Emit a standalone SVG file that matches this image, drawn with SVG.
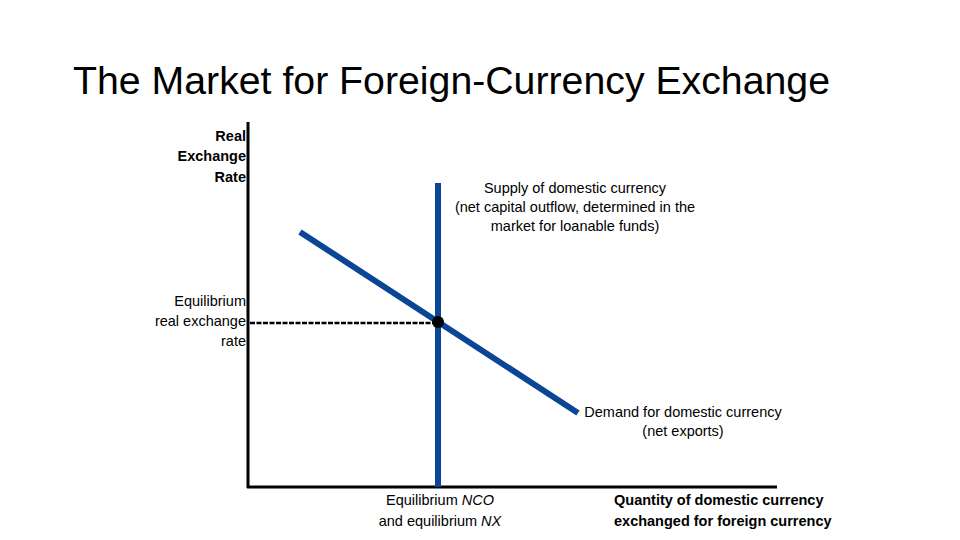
<svg xmlns="http://www.w3.org/2000/svg" width="960" height="540" viewBox="0 0 960 540">
<style>
text{font-family:"Liberation Sans",Arial,sans-serif;fill:#000}
.t{font-size:38px}
.s{font-size:14.5px}
.b{font-weight:bold}
.curve{stroke:#0b4596;stroke-width:6;fill:none}
.axis{stroke:#000;stroke-width:3;fill:none}
</style>
<rect width="960" height="540" fill="#fff"/>
<text class="t" x="73" y="94" textLength="757" lengthAdjust="spacingAndGlyphs">The Market for Foreign-Currency Exchange</text>
<g id="axes">
<line class="axis" x1="248" y1="122" x2="248" y2="488"/>
<line class="axis" x1="247" y1="487" x2="777" y2="487"/>
</g>
<g id="y-label">
<text x="246" y="141" text-anchor="end" class="s b">Real</text>
<text x="246" y="161" text-anchor="end" class="s b">Exchange</text>
<text x="246" y="182" text-anchor="end" class="s b">Rate</text>
</g>
<g id="x-label">
<text x="614" y="505" class="s b">Quantity of domestic currency</text>
<text x="614" y="526" class="s b">exchanged for foreign currency</text>
</g>
<g id="connectors">
<line x1="250" y1="323" x2="434" y2="323" stroke="#000" stroke-width="2.5" stroke-dasharray="5,1.5"/>
</g>
<g id="supply">
<line class="curve" x1="438" y1="183" x2="438" y2="487"/>
<text x="575" y="193" text-anchor="middle" class="s">Supply of domestic currency</text>
<text x="575" y="212" text-anchor="middle" class="s">(net capital outflow, determined in the</text>
<text x="575" y="231" text-anchor="middle" class="s">market for loanable funds)</text>
</g>
<g id="demand">
<line class="curve" x1="300" y1="232" x2="578" y2="413"/>
<text x="683" y="417" text-anchor="middle" class="s">Demand for domestic currency</text>
<text x="683" y="436" text-anchor="middle" class="s">(net exports)</text>
</g>
<g id="equilibrium">
<circle cx="438" cy="322" r="6" fill="#000"/>
<text x="246" y="306" text-anchor="end" class="s">Equilibrium</text>
<text x="246" y="326" text-anchor="end" class="s">real exchange</text>
<text x="246" y="346" text-anchor="end" class="s">rate</text>
<text x="440" y="505" text-anchor="middle" class="s">Equilibrium <tspan font-style="italic">NCO</tspan></text>
<text x="440" y="526" text-anchor="middle" class="s">and equilibrium <tspan font-style="italic">NX</tspan></text>
</g>
</svg>
